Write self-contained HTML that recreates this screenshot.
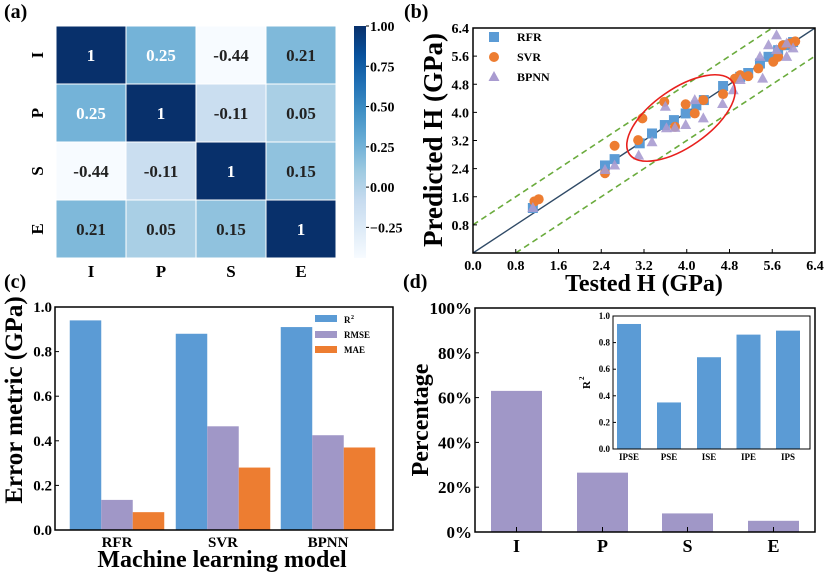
<!DOCTYPE html>
<html><head><meta charset="utf-8"><style>
body{margin:0;background:#fff}
svg{display:block;font-family:"Liberation Serif",serif;font-weight:bold}
</style></head><body>
<svg id="s" width="833" height="575" viewBox="0 0 833 575"></svg>
<script>
// ---- data ----
const hmLabels=['I','P','S','E'];
const hmValues=[[1,0.25,-0.44,0.21],[0.25,1,-0.11,0.05],[-0.44,-0.11,1,0.15],[0.21,0.05,0.15,1]];
const cbTicks=[1.00,0.75,0.50,0.25,0.00,-0.25];
const rfrX=[1.12,2.47,2.65,3.12,3.35,3.59,3.76,3.98,4.18,4.32,4.68,5.0,5.15,5.37,5.53,5.71,5.87,5.99];
const rfrY=[1.28,2.49,2.67,3.12,3.4,3.64,3.78,3.97,4.2,4.35,4.75,5.01,5.12,5.39,5.58,5.77,5.91,6.0];
const svrX=[1.15,1.23,2.47,2.65,3.09,3.17,3.58,3.78,3.98,4.15,4.31,4.68,4.9,5.0,5.15,5.34,5.62,5.71,5.8,5.93,6.03];
const svrY=[1.47,1.53,2.27,3.05,3.21,3.83,4.3,3.59,4.23,3.97,4.35,4.52,4.96,5.06,5.03,5.25,5.44,5.58,5.91,5.96,6.02];
const bpX=[1.12,2.47,2.65,3.1,3.35,3.6,3.62,3.78,3.98,4.15,4.31,4.67,4.87,5.0,5.42,5.37,5.53,5.68,5.68,5.87,5.87,5.99];
const bpY=[1.28,2.36,2.49,2.77,3.15,4.16,3.55,3.56,3.64,4.35,3.83,4.24,4.63,4.92,4.96,5.58,5.91,5.77,6.19,5.58,5.96,5.82];
const bTicks=[0,0.8,1.6,2.4,3.2,4.0,4.8,5.6,6.4];
const cModels=['RFR','SVR','BPNN'];
const cR2=[0.94,0.88,0.91];
const cRMSE=[0.135,0.465,0.425];
const cMAE=[0.08,0.28,0.37];
const cTicks=[0,0.2,0.4,0.6,0.8,1.0];
const dCats=['I','P','S','E'];
const dVals=[63,26.5,8.3,5];
const dTicks=[0,20,40,60,80,100];
const inCats=['IPSE','PSE','ISE','IPE','IPS'];
const inVals=[0.94,0.35,0.69,0.86,0.89];
const inTicks=[0,0.2,0.4,0.6,0.8,1.0];

const S=document.getElementById('s');const NS='http://www.w3.org/2000/svg';
function el(t,a,txt){const e=document.createElementNS(NS,t);for(const k in a)e.setAttribute(k,a[k]);if(txt!==undefined)e.textContent=txt;S.appendChild(e);return e;}
function blues(v){const st=[[247,251,255],[222,235,247],[198,219,239],[158,202,225],[107,174,214],[66,146,198],[33,113,181],[8,81,156],[8,48,107]];
 let t=(v+0.44)/1.44;t=Math.max(0,Math.min(1,t))*8;const i=Math.min(7,Math.floor(t)),f=t-i;
 const c=st[i].map((x,j)=>Math.round(x+(st[i+1][j]-x)*f));return `rgb(${c})`;}

[['(a)',4,18],['(b)',404,18],['(c)',4,288],['(d)',403,288]].forEach(p=>{const e=el('text',{x:p[1],y:p[2],'font-size':20},p[0]);

});

// ---- (a) heatmap ----
const hx=56,hy=26,cw=70,ch=58;
hmValues.forEach((row,r)=>row.forEach((v,c)=>{
 const rc=el('rect',{x:hx+c*cw,y:hy+r*ch,width:cw,height:ch,fill:blues(v),stroke:'#fff','stroke-width':1});
 
 
 const t=el('text',{x:hx+c*cw+cw/2,y:hy+r*ch+ch/2+6,'text-anchor':'middle','font-size':17,fill:v>0.22?'#fff':'#222'},String(v));
 
 
}));
hmLabels.forEach((l,i)=>{
 const t=el('text',{x:hx+i*cw+cw/2,y:277,'text-anchor':'middle','font-size':17},l);
 
 
 const y=hy+i*ch+ch/2;
 const u=el('text',{x:0,y:0,'text-anchor':'middle','font-size':17,transform:`translate(43,${y}) rotate(-90)`},l);
 
 
});
const gd=el('linearGradient',{id:'cb',x1:0,y1:1,x2:0,y2:0});
for(let i=0;i<=8;i++){const v=-0.44+1.44*i/8;const st=document.createElementNS(NS,'stop');st.setAttribute('offset',i/8);st.setAttribute('stop-color',blues(v));gd.appendChild(st);}
const defs=el('defs',{});defs.appendChild(gd);
const cb=el('rect',{x:354,y:26,width:12,height:232,fill:'url(#cb)'});


const cbY=v=>26+(1-v)/1.44*232;
cbTicks.forEach(v=>{el('line',{x1:366,x2:369,y1:cbY(v),y2:cbY(v),stroke:'#000'});
 const t=el('text',{x:370,y:cbY(v)+5,'font-size':14},(v<0?'\u2212':'')+Math.abs(v).toFixed(2));
 
 });

// ---- (b) scatter ----
const bL=473,bR=815,bT=28,bB=253;
const bx=v=>bL+v/6.4*(bR-bL), by=v=>bB-v/6.4*(bB-bT);
const cp=el('clipPath',{id:'bc'});const cr=document.createElementNS(NS,'rect');cp.appendChild(cr);
['x','y','width','height'].forEach((k,i)=>cr.setAttribute(k,[bL,bT,bR-bL,bB-bT][i]));
const g=el('g',{'clip-path':'url(#bc)'});
function gl(t,a){const e=document.createElementNS(NS,t);for(const k in a)e.setAttribute(k,a[k]);g.appendChild(e);return e;}
const d1=gl('line',{x1:bx(0),y1:by(0.8),x2:bx(5.6),y2:by(6.4),stroke:'#6aab3c','stroke-width':1.6,'stroke-dasharray':'6,4'});


const d2=gl('line',{x1:bx(0.8),y1:by(0),x2:bx(6.4),y2:by(5.6),stroke:'#6aab3c','stroke-width':1.6,'stroke-dasharray':'6,4'});


const fl=gl('line',{x1:bx(0),y1:by(0),x2:bx(6.4),y2:by(6.4),stroke:'#2f4a66','stroke-width':1.4});


rfrX.forEach((x,i)=>{const r=gl('rect',{x:bx(x)-5,y:by(rfrY[i])-5,width:10,height:10,fill:'#5b9bd5'});
 
 });
svrX.forEach((x,i)=>{const c=gl('circle',{cx:bx(x),cy:by(svrY[i]),r:5,fill:'#ed7d31'});
 
 });
bpX.forEach((x,i)=>{const X=bx(x),Y=by(bpY[i]);const p=gl('polygon',{points:`${X},${Y-6} ${X-5.5},${Y+4} ${X+5.5},${Y+4}`,fill:'#a99bd0','fill-opacity':0.9});
 
 });
const ell=el('ellipse',{cx:681,cy:118,rx:63,ry:29,fill:'none',stroke:'#e8201d','stroke-width':1.6,transform:'rotate(-35 681 118)'});


const bf=el('rect',{x:bL,y:bT,width:bR-bL,height:bB-bT,fill:'none',stroke:'#000','stroke-width':1.5});


bTicks.forEach(v=>{
 el('line',{x1:bx(v),x2:bx(v),y1:bB,y2:bB-4,stroke:'#000'});el('line',{x1:bL,x2:bL+4,y1:by(v),y2:by(v),stroke:'#000'});
 const t=el('text',{x:bx(v),y:bB+17,'text-anchor':'middle','font-size':14},v.toFixed(1));
 
 
 if(v>0){const u=el('text',{x:bL-4,y:by(v)+5,'text-anchor':'end','font-size':14},v.toFixed(1));
 
 }
});
const bxt=el('text',{x:644,y:291,'text-anchor':'middle','font-size':24},'Tested H (GPa)');


const byt=el('text',{x:0,y:0,'text-anchor':'middle','font-size':27,transform:`translate(442,140) rotate(-90)`},'Predicted H (GPa)');


el('rect',{x:489,y:32,width:10,height:10,fill:'#5b9bd5'});
el('circle',{cx:494,cy:57,r:5,fill:'#ed7d31'});
el('polygon',{points:'494,71 488.5,81 499.5,81',fill:'#a99bd0'});
[['RFR',41],['SVR',61],['BPNN',81]].forEach(l=>{const t=el('text',{x:517,y:l[1],'font-size':12},l[0]);
 
 });

// ---- (c) grouped bars ----
const cL=55,cR=393,cT=307,cB=530;
const cy=v=>cB-v*(cB-cT);
const cCenters=[117,223,328];const bw=31.5;
const series=[[cR2,'#5b9bd5','bar-r2'],[cRMSE,'#a097c7','bar-rmse'],[cMAE,'#ed7d31','bar-mae']];
cModels.forEach((m,i)=>{
 series.forEach((s,j)=>{const x=cCenters[i]-1.5*bw+j*bw;const r=el('rect',{x:x,y:cy(s[0][i]),width:bw,height:cB-cy(s[0][i]),fill:s[1]});
 
 });
 const t=el('text',{x:cCenters[i],y:cB+17,'text-anchor':'middle','font-size':15},m);
 
 
});
el('rect',{x:cL,y:cT,width:cR-cL,height:cB-cT,fill:'none',stroke:'#000','stroke-width':1.5});
cTicks.forEach(v=>{el('line',{x1:cL,x2:cL+4,y1:cy(v),y2:cy(v),stroke:'#000'});
 const t=el('text',{x:cL-3,y:cy(v)+5,'text-anchor':'end','font-size':15},v.toFixed(1));
 
 });
const cxt=el('text',{x:222,y:567,'text-anchor':'middle','font-size':24},'Machine learning model');


const cyt=el('text',{x:0,y:0,'text-anchor':'middle','font-size':25,transform:'translate(22,400) rotate(-90)'},'Error metric (GPa)');


[['#5b9bd5',318],['#a097c7',334],['#ed7d31',349]].forEach(l=>el('rect',{x:315,y:l[1]-3,width:22,height:7,fill:l[0]}));
el('text',{x:344,y:323,'font-size':9},'R');el('text',{x:351,y:319,'font-size':6},'2');
el('text',{x:344,y:338,'font-size':9},'RMSE');el('text',{x:344,y:353,'font-size':9},'MAE');

// ---- (d) bars + inset ----
const dL=475,dR=815,dT=308,dB=532;
const dy=v=>dB-v/100*(dB-dT);
const dCenters=[516.5,602.5,687.5,773.5];
dCats.forEach((c,i)=>{
 const r=el('rect',{x:dCenters[i]-25.5,y:dy(dVals[i]),width:51,height:dB-dy(dVals[i]),fill:'#a097c7'});
 
 
 el('line',{x1:dCenters[i],x2:dCenters[i],y1:dB,y2:dB-5,stroke:'#000'});
 const t=el('text',{x:dCenters[i],y:dB+20,'text-anchor':'middle','font-size':18},c);
 
 
});
el('rect',{x:dL,y:dT,width:dR-dL,height:dB-dT,fill:'none',stroke:'#000','stroke-width':1.5});
dTicks.forEach(v=>{el('line',{x1:dL,x2:dL+4,y1:dy(v),y2:dy(v),stroke:'#000'});
 const t=el('text',{x:dL-3,y:dy(v)+6,'text-anchor':'end','font-size':17},v+'%');
 
 });
const dyt=el('text',{x:0,y:0,'text-anchor':'middle','font-size':24,transform:'translate(428,420) rotate(-90)'},'Percentage');


const iL=613,iR=810,iT=316,iB=449;
const iy=v=>iB-v*(iB-iT);
el('rect',{x:iL,y:iT,width:iR-iL,height:iB-iT,fill:'#fff'});
const iCenters=[629,669,709,748.5,788];
inCats.forEach((c,i)=>{
 const r=el('rect',{x:iCenters[i]-12,y:iy(inVals[i]),width:24,height:iB-iy(inVals[i]),fill:'#5b9bd5'});
 
 
 const t=el('text',{x:iCenters[i],y:iB+11,'text-anchor':'middle','font-size':9},c);
 
 
});
el('rect',{x:iL,y:iT,width:iR-iL,height:iB-iT,fill:'none',stroke:'#000','stroke-width':1});
inTicks.forEach(v=>{el('line',{x1:iL,x2:iL+3,y1:iy(v),y2:iy(v),stroke:'#000'});
 const t=el('text',{x:iL-3,y:iy(v)+3,'text-anchor':'end','font-size':9},v.toFixed(1));
 
 });
const iyt=el('text',{x:0,y:0,'text-anchor':'middle','font-size':11,transform:'translate(590,385) rotate(-90)'},'R');


el('text',{x:0,y:0,'font-size':7,transform:'translate(584,380) rotate(-90)'},'2');
</script>
</body></html>
